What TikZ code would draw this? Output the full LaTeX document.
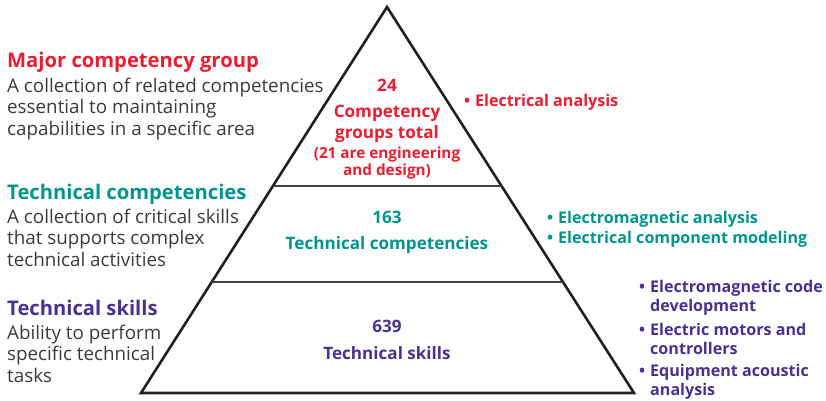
\documentclass[tikz,border=0pt]{standalone}
\usepackage{fontspec}
\setmainfont{Open Sans}
\usetikzlibrary{calc}
\definecolor{cred}{HTML}{ED1C2E}
\definecolor{cteal}{HTML}{00958E}
\definecolor{cpurple}{HTML}{4A3094}
\definecolor{cgray}{HTML}{3A3A3A}
\definecolor{cline}{HTML}{231F20}
\newcommand{\fsz}[2]{\fontsize{#1}{#2}\selectfont}
\newcommand{\bl}{\makebox[11pt][l]{•}}
\begin{document}
\begin{tikzpicture}[x=1pt,y=-1pt,
  txt/.style={inner sep=0pt, anchor=base west, align=left},
  ctr/.style={inner sep=0pt, anchor=base, align=center},
  head/.style={txt, font=\bfseries\fsz{20.2}{24}},
  body/.style={txt, text=cgray, font=\fsz{18.8}{21.4}},
  inner/.style={ctr, font=\bfseries\fsz{17.1}{21}},
  small/.style={ctr, font=\bfseries\fsz{15.3}{17}},
  list/.style={txt, font=\bfseries\fsz{16.1}{20}},
  outline/.style={draw=cline, line width=2.6pt, line join=miter},
  divider/.style={draw=cline!85, line width=1.6pt}]
\useasboundingbox (0,0) rectangle (826,400);
% pyramid
\coordinate (apex) at (387,7);
\coordinate (bl) at (141,393);
\coordinate (br) at (634,393);
\draw[outline] (apex) -- (br) -- (bl) -- cycle;
\coordinate (d1l) at ($(apex)!0.4637!(bl)$);
\coordinate (d1r) at ($(apex)!0.4637!(br)$);
\coordinate (d2l) at ($(apex)!0.7124!(bl)$);
\coordinate (d2r) at ($(apex)!0.7124!(br)$);
\draw[divider] (d1l) -- (d1r);
\draw[divider] (d2l) -- (d2r);
% left descriptions (multi-line nodes: base = last line)
\node[head, text=cred] (h1) at (7,67) {Major competency group};
\node[body] (b1) at (7,135) {A collection of related competencies\\essential to maintaining\\capabilities in a specific area};
\node[head, text=cteal] (h2) at (7,199) {Technical competencies};
\node[body] (b2) at (7,266) {A collection of critical skills\\that supports complex\\technical activities};
\node[head, text=cpurple] (h3) at (7,315) {Technical skills};
\node[body] (b3) at (7,382) {Ability to perform\\specific technical\\tasks};
% pyramid labels
\node[inner, text=cred] (n24) at (387,91) {24};
\node[inner, text=cred] (t1) at (387,138) {Competency\\groups total};
\node[small, text=cred] (s1) at (387,175) {(21 are engineering\\and design)};
\node[inner, text=cteal] (n163) at (387,223) {163};
\node[inner, text=cteal] (t2) at (387,249) {Technical competencies};
\node[inner, text=cpurple] (n639) at (387,332) {639};
\node[inner, text=cpurple] (t3) at (387,359) {Technical skills};
% right examples
\node[list, text=cred] (e1) at (464,106) {\bl Electrical analysis};
\node[list, text=cteal] (e2) at (547,243) {\bl Electromagnetic analysis\\\bl Electrical component modeling};
\node[list, text=cpurple, font=\bfseries\fsz{16.1}{19}] (e3) at (639,395) {\bl Electromagnetic code\\\hspace*{11pt}development\\[5pt]\bl Electric motors and\\\hspace*{11pt}controllers\\[3pt]\bl Equipment acoustic\\\hspace*{11pt}analysis};
\end{tikzpicture}
\end{document}
